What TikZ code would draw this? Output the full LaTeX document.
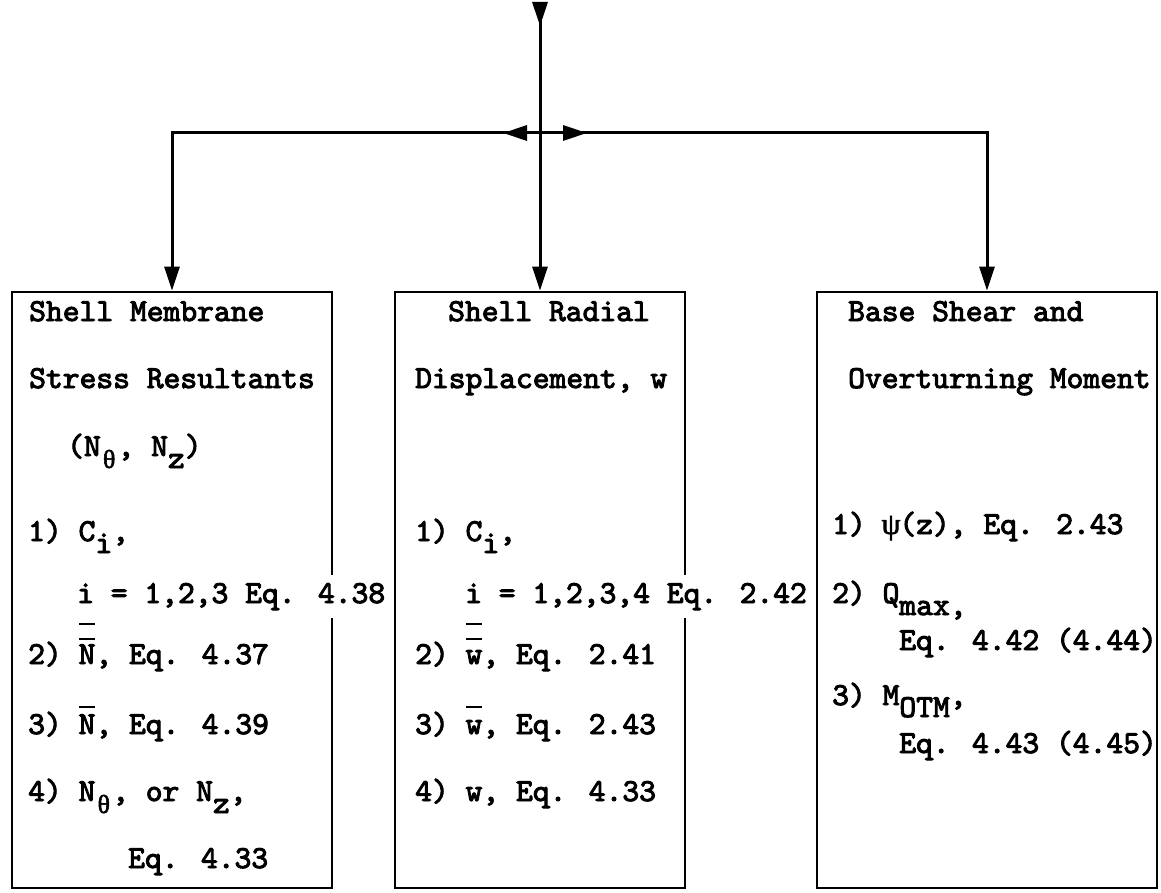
\documentclass[tikz,border=0pt]{standalone}
\usepackage{fontspec}
\usetikzlibrary{arrows.meta}
\newfontfamily\tw{lmmono10-regular.otf}[FakeBold=3]
\newfontfamily\gk{Liberation Serif}[FakeBold=2]
\newcommand\lo[1]{\raisebox{-12pt}{#1}}
\newcommand\gth{\makebox[16.8pt]{\gk\fontsize{26}{26}\selectfont θ}}
\newcommand\gps{\makebox[16.8pt]{\gk\fontsize{30}{30}\selectfont ψ}}
\newcommand\sbar[1]{\rlap{\hspace{0.5pt}\rule[26pt]{16pt}{2.4pt}}#1}
\newcommand\dbar[1]{\rlap{\hspace{0.5pt}\rule[24pt]{16pt}{2.4pt}}\rlap{\hspace{0.5pt}\rule[39pt]{16pt}{2.4pt}}#1}
\begin{document}
\begin{tikzpicture}[x=1pt,y=-1pt,
  box/.style={draw, line width=2.8pt, inner sep=0pt},
  conn/.style={line width=3pt, line join=miter, -{Triangle[length=24pt,width=15pt]}},
  t/.style={anchor=base west, inner sep=0pt, font=\tw\fontsize{32}{32}\selectfont},
  gapt/.style={t, fill=white, inner ysep=8pt}]
\fill[white] (0,0) rectangle (1161,893);
\useasboundingbox (0,0) rectangle (1161,893);
% boxes
\node[box, minimum width=320pt, minimum height=596pt] (b1) at (172,590) {};
\node[box, minimum width=290pt, minimum height=596pt] (b2) at (540,590) {};
\node[box, minimum width=340pt, minimum height=596pt] (b3) at (987,590) {};
% connectors
\coordinate (src) at (540,5);
\coordinate (hub) at (540,133);
\draw[conn] (src) -- (b2.north);
\draw[conn] (src) -- ++(0,21);
\draw[conn] (hub) -- ++(-37,0);
\draw[conn] (hub) -- ++(47,0);
\draw[conn] (hub) -| (b1.north);
\draw[conn] (hub) -| (b3.north);
% box 1 text
\node[t] (a1) at (29,321) {Shell Membrane};
\node[t] (a2) at (29,388) {Stress Resultants};
\node[t] (a3) at (67,456) {(N\lo{\gth}, N\lo{z})};
\node[t] (a4) at (28,541) {1) C\lo{i},};
\node[gapt] (a5) at (77,603) {i = 1,2,3 Eq. 4.38};
\node[t] (a6) at (28,664) {2) \dbar{N}, Eq. 4.37};
\node[t] (a7) at (28,734) {3) \sbar{N}, Eq. 4.39};
\node[t] (a8) at (28,801) {4) N\lo{\gth}, or N\lo{z},};
\node[t] (a9) at (128,868) {Eq. 4.33};
% box 2 text
\node[t] (c1) at (448,321) {Shell Radial};
\node[t] (c2) at (415,388) {Displacement, w};
\node[t] (c4) at (415,541) {1) C\lo{i},};
\node[gapt] (c5) at (465,603) {i = 1,2,3,4 Eq. 2.42};
\node[t] (c6) at (415,664) {2) \dbar{w}, Eq. 2.41};
\node[t] (c7) at (415,734) {3) \sbar{w}, Eq. 2.43};
\node[t] (c8) at (415,801) {4) w, Eq. 4.33};
% box 3 text
\node[t] (d1) at (848,321) {Base Shear and};
\node[t] (d2) at (848,388) {Overturning Moment};
\node[t] (d3) at (832,534) {1) \gps(z), Eq. 2.43};
\node[t] (d4) at (832,603) {2) Q\lo{max,}};
\node[t] (d5) at (899,650) {Eq. 4.42 (4.44)};
\node[t] (d6) at (832,705) {3) M\lo{OTM},};
\node[t] (d7) at (899,753) {Eq. 4.43 (4.45)};
\end{tikzpicture}
\end{document}
